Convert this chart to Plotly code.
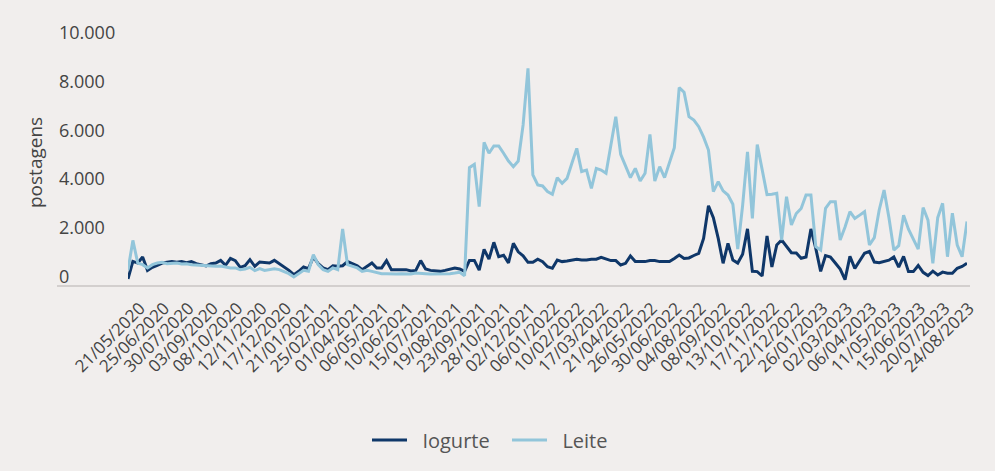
import pandas as pd
import plotly.graph_objects as go

start_date = "2020-05-21"
n_weeks = 173
dates = pd.date_range(start_date, periods=n_weeks, freq="7D")

iogurte = [
    290, 1010, 940, 1190, 640, 765, 850, 940, 970, 1000,
    970, 1000, 955, 1000, 915, 860, 820, 915, 940, 1050,
    850, 1130, 1040, 765, 830, 1080, 805, 985, 970, 940,
    1050, 915, 805, 640, 465, 600, 780, 710, 1190, 915,
    740, 670, 830, 805, 830, 1000, 915, 830, 670, 805,
    940, 740, 740, 1040, 670, 670, 670, 670, 615, 640,
    1040, 700, 640, 615, 600, 640, 700, 740, 700, 600,
    1050, 1050, 650, 1500, 1100, 1790, 1200, 1260, 950, 1750,
    1400, 1240, 970, 970, 1100, 1000, 790, 725, 1065, 1000,
    1025, 1065, 1100, 1065, 1065, 1100, 1100, 1175, 1100, 1040,
    1040, 860, 930, 1230, 1000, 1000, 1000, 1040, 1040, 1000,
    1000, 1000, 1130, 1270, 1130, 1150, 1250, 1340, 1950, 3290,
    2800, 1950, 930, 1750, 1065, 940, 1300, 2340, 600, 590,
    410, 2050, 780, 1680, 1885, 1620, 1365, 1350, 1135, 1190,
    2340, 1540, 600, 1250, 1190, 940, 690, 260, 1215, 725,
    1030, 1340, 1420, 980, 955, 1000, 1060, 1190, 770, 1215,
    590, 590, 840, 560, 430, 610, 450, 570, 520, 520,
    725, 800, 930,
]

leite = [
    650, 1870, 940, 875, 740, 875, 940, 970, 915, 915,
    940, 900, 915, 875, 860, 875, 830, 830, 805, 820,
    765, 740, 740, 670, 700, 765, 630, 710, 640, 670,
    710, 670, 600, 505, 370, 505, 640, 600, 1280, 875,
    670, 600, 740, 670, 2335, 875, 805, 740, 600, 640,
    600, 560, 505, 505, 490, 490, 505, 505, 490, 530,
    530, 505, 490, 490, 490, 505, 505, 530, 560, 420,
    4850, 4985, 3250, 5890, 5440, 5740, 5740, 5440, 5120, 4890,
    5120, 6600, 8920, 4550, 4140, 4100, 3870, 3760, 4440, 4210,
    4410, 5030, 5640, 4690, 4750, 4000, 4820, 4750, 4620, 5780,
    6940, 5400, 4890, 4440, 4820, 4300, 4620, 6215, 4300, 4890,
    4440, 5100, 5670, 8130, 7940, 6940, 6800, 6530, 6100, 5570,
    3870, 4275, 3900, 3730, 3350, 1510, 3300, 5500, 2770, 5800,
    4750, 3745, 3760, 3800, 1885, 3660, 2500, 2970, 3180, 3730,
    3730, 1610, 1475, 3180, 3455, 3455, 1885, 2415, 3045, 2770,
    2905, 3045, 1680, 1985, 3115, 3930, 2800, 1475, 1650, 2905,
    2330, 1920, 1510, 3215, 2700, 930, 2800, 3390, 1200, 2980,
    1680, 1200, 2640,
]

tick_labels = [
    "21/05/2020", "25/06/2020", "30/07/2020", "03/09/2020", "08/10/2020",
    "12/11/2020", "17/12/2020", "21/01/2021", "25/02/2021", "01/04/2021",
    "06/05/2021", "10/06/2021", "15/07/2021", "19/08/2021", "23/09/2021",
    "28/10/2021", "02/12/2021", "06/01/2022", "10/02/2022", "17/03/2022",
    "21/04/2022", "26/05/2022", "30/06/2022", "04/08/2022", "08/09/2022",
    "13/10/2022", "17/11/2022", "22/12/2022", "26/01/2023", "02/03/2023",
    "06/04/2023", "11/05/2023", "15/06/2023", "20/07/2023", "24/08/2023",
]
tick_dates = pd.to_datetime(tick_labels, format="%d/%m/%Y")

y_tick_values = [0, 2000, 4000, 6000, 8000, 10000]
y_tick_text = ["0", "2.000", "4.000", "6.000", "8.000", "10.000"]

BG = "#f1eeed"
DARK = "#0f3769"
LIGHT = "#92c5da"
TXT = "#444444"

fig = go.Figure()
fig.add_trace(go.Scatter(x=dates, y=iogurte, mode="lines",
                         name="&nbsp;&nbsp;Iogurte",
                         line=dict(color=DARK, width=3)))
fig.add_trace(go.Scatter(x=dates, y=leite, mode="lines",
                         name="&nbsp;&nbsp;Leite",
                         line=dict(color=LIGHT, width=3)))

W, H = 995, 471
L, R, T, B = 128, 28, 42, 185
pw = W - L - R
ph = H - T - B

annotations = []
for v, t in zip(y_tick_values, y_tick_text):
    annotations.append(dict(x=(57 - L) / pw, xref="paper", xanchor="left",
                            y=v, yref="y", yanchor="middle", yshift=10,
                            text=t, showarrow=False,
                            font=dict(family="Open Sans", size=18, color=TXT)))
annotations.append(dict(x=(35 - L) / pw, xref="paper", xanchor="center",
                        y=(286 - 163) / ph, yref="paper", yanchor="middle",
                        text="postagens", textangle=-90, showarrow=False,
                        font=dict(family="Open Sans", size=19, color=TXT)))

fig.update_layout(
    width=W, height=H,
    margin=dict(l=L, r=R, t=T, b=B),
    paper_bgcolor=BG, plot_bgcolor=BG,
    showlegend=True,
    legend=dict(orientation="h", x=(367 - L) / pw, xanchor="left",
                y=(286 - 440) / ph, yanchor="middle",
                font=dict(family="Open Sans", size=20, color="#555555"),
                itemwidth=35, entrywidth=90, entrywidthmode="pixels",
                bgcolor="rgba(0,0,0,0)"),
    annotations=annotations,
    shapes=[dict(type="line", xref="paper", yref="paper",
                 x0=(57 - L) / pw, x1=(970 - L) / pw, y0=0, y1=0,
                 line=dict(color="#d3cfce", width=2))],
)
fig.update_xaxes(type="date", range=[dates[0], dates[-1]],
                 tickvals=tick_dates, ticktext=tick_labels, tickangle=-45,
                 tickfont=dict(family="Open Sans", size=17, color=TXT),
                 ticklabelshift=12, ticklabelstandoff=8,
                 showgrid=False, zeroline=False, showline=False, ticks="")
fig.update_yaxes(range=[0, 10000], showticklabels=False, showgrid=False,
                 zeroline=False, showline=False, ticks="")

fig.write_html("out.html")
